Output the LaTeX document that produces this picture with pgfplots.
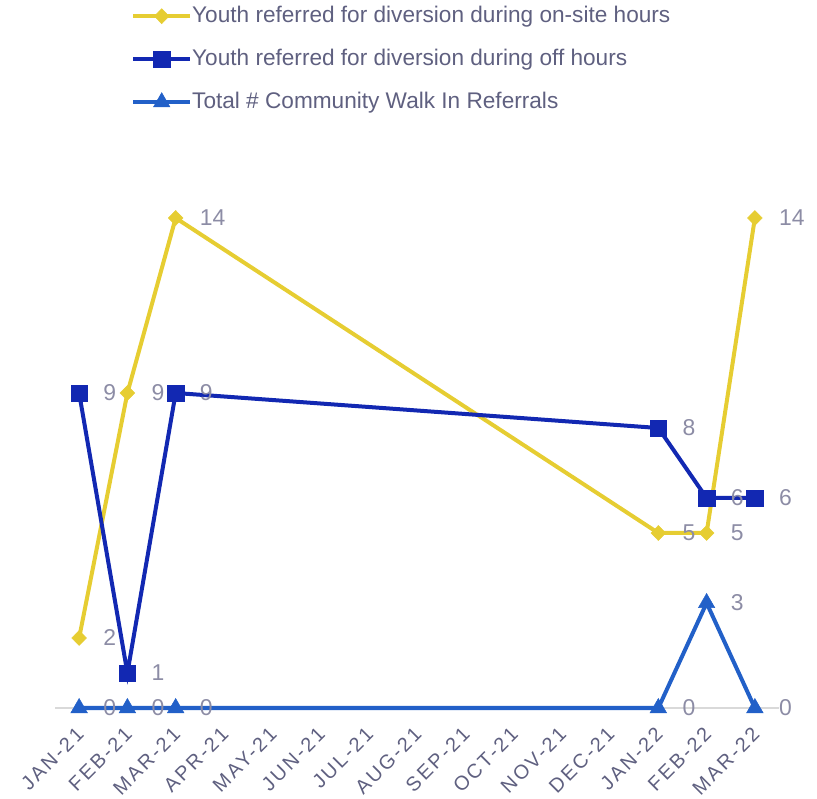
\documentclass[border=0pt]{standalone}
\usepackage{fontspec}
\setmainfont{Liberation Sans}
\newfontfamily\tickfont[LetterSpace=12]{Liberation Sans}
\usepackage{pgfplots}
\pgfplotsset{compat=1.18}
\definecolor{cyel}{RGB}{230,205,50}
\definecolor{cnavy}{RGB}{18,40,178}
\definecolor{cblue}{RGB}{34,96,200}
\definecolor{ctxt}{RGB}{95,96,128}
\definecolor{clab}{RGB}{140,140,165}
\definecolor{caxis}{RGB}{217,217,217}
\begin{document}
\begin{tikzpicture}
\path (0,0) rectangle (817bp,799bp);
\begin{axis}[
  at={(55bp,91bp)}, anchor=south west,
  scale only axis, width=724bp, height=490bp,
  xmin=-0.5, xmax=14.5, ymin=0, ymax=14,
  clip=false,
  /pgf/number format/assume math mode=true,
  axis x line=bottom, axis y line=none,
  x axis line style={caxis, line width=1.5bp, -},
  xtick={0,...,14},
  xticklabels={JAN-21,FEB-21,MAR-21,APR-21,MAY-21,JUN-21,JUL-21,AUG-21,SEP-21,OCT-21,NOV-21,DEC-21,JAN-22,FEB-22,MAR-22},
  major tick length=0,
  xticklabel style={xshift=1bp, yshift=-23bp, rotate=45, anchor=east, inner sep=0pt, font=\tickfont\fontsize{20}{22}\selectfont, text=ctxt},
  ytick=\empty,
  nodes near coords,
  every node near coord/.append style={anchor=west, inner sep=0pt, xshift=24bp, font=\fontsize{23}{26}\selectfont, text=clab},
  legend image code/.code={\draw[mark repeat=2,mark phase=2,#1] plot coordinates {(0bp,0bp) (28.5bp,0bp) (57bp,0bp)};},
  legend style={at={(rel axis cs:0.1050,1.4347)}, anchor=north west, draw=none, fill=none, inner sep=0pt,
    font=\fontsize{22.7}{26}\selectfont, text=ctxt,
    nodes={inner sep=0pt, text height=17bp, text depth=5bp},
    row sep=21bp,
    /tikz/every odd column/.style={column sep=0bp}},
  legend cell align=left,
]
\addplot[cyel, line width=4bp, mark=diamond*, mark size=7.5bp, mark options={xscale=1.3, line width=0.5bp}]
  coordinates {(0,2) (1,9) (2,14) (12,5) (13,5) (14,14)};
\addlegendentry{Youth referred for diversion during on-site hours}
\addplot[cnavy, line width=4bp, mark=square*, mark size=8.2bp, mark options={line width=0.5bp}]
  coordinates {(0,9) (1,1) (2,9) (12,8) (13,6) (14,6)};
\addlegendentry{Youth referred for diversion during off hours}
\addplot[cblue, line width=4bp, mark=triangle*, mark size=9.5bp, mark options={line width=0.5bp}]
  coordinates {(0,0) (1,0) (2,0) (12,0) (13,3) (14,0)};
\addlegendentry{Total \# Community Walk In Referrals}
\end{axis}
\end{tikzpicture}
\end{document}
